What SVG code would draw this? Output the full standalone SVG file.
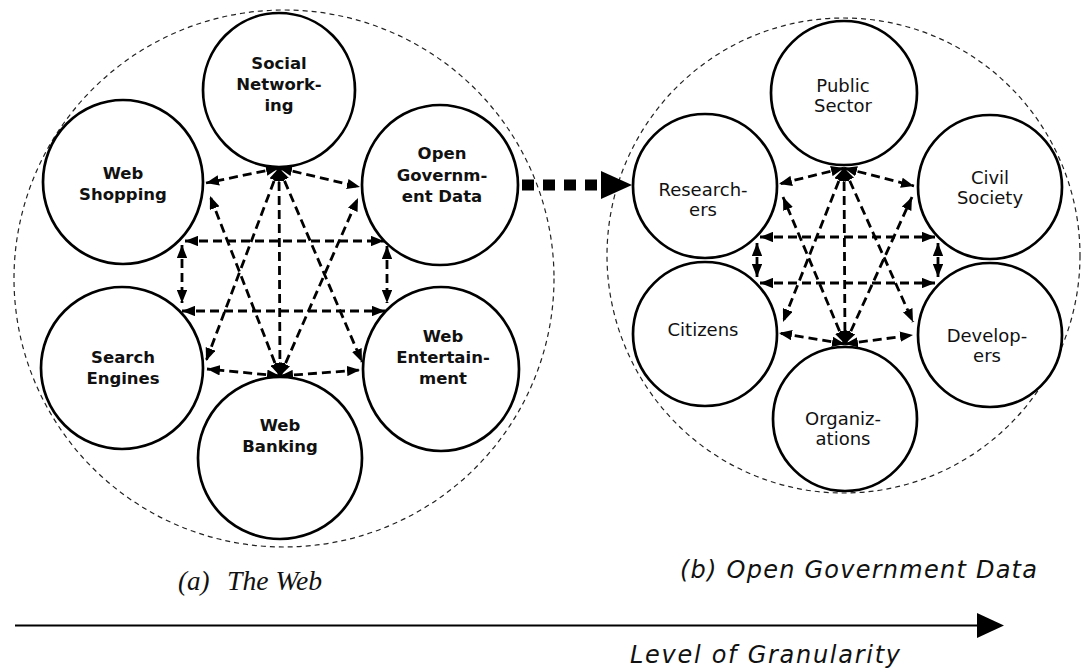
<svg xmlns="http://www.w3.org/2000/svg" width="1082" height="670" viewBox="0 0 1082 670">
<style>
.bg{fill:#fff}
.outer{fill:none;stroke:#222;stroke-width:1.2;stroke-dasharray:5 4}
.node{fill:#fff;stroke:#000;stroke-width:2.7}
.lb{font-family:"DejaVu Sans",Verdana,sans-serif;font-weight:bold;font-size:16.5px;fill:#111;text-anchor:middle}
.lr{font-family:"DejaVu Sans",Verdana,sans-serif;font-size:18px;fill:#111;text-anchor:middle}
.cn{fill:none;stroke:#000;stroke-width:2.8;stroke-dasharray:9 5;marker-start:url(#ah);marker-end:url(#ah)}
.cap{font-family:"DejaVu Sans",Verdana,sans-serif;font-style:italic;font-size:24px;fill:#111}
.capserif{font-family:"Liberation Serif","Times New Roman",serif;font-style:italic;font-size:27px;fill:#111}
</style>
<defs>
<marker id="ah" viewBox="0 0 10 8" refX="10" refY="4" markerWidth="13" markerHeight="10.5" markerUnits="userSpaceOnUse" orient="auto-start-reverse">
<path d="M0,0 L10,4 L0,8 z" fill="#000"/>
</marker>
</defs>
<rect class="bg" x="0" y="0" width="1082" height="670"/>

<g id="panel-a-boundary">
<ellipse class="outer" cx="284" cy="278.5" rx="270" ry="268.5"/>
</g>
<g id="panel-b-boundary">
<ellipse class="outer" cx="843.5" cy="255.5" rx="236.5" ry="237.5"/>
</g>

<g id="connectors">
<!-- panel a -->
<line class="cn" x1="279" y1="168" x2="206" y2="183"/>
<line class="cn" x1="279" y1="168" x2="360" y2="187"/>
<line class="cn" x1="279" y1="168" x2="206" y2="361"/>
<line class="cn" x1="279" y1="168" x2="280" y2="376"/>
<line class="cn" x1="279" y1="168" x2="362" y2="362"/>
<line class="cn" x1="280" y1="376" x2="210" y2="196"/>
<line class="cn" x1="280" y1="376" x2="358" y2="198"/>
<line class="cn" x1="280" y1="376" x2="207" y2="369"/>
<line class="cn" x1="280" y1="376" x2="360" y2="370"/>
<line class="cn" x1="185" y1="241" x2="384" y2="241"/>
<line class="cn" x1="182" y1="311" x2="385" y2="311"/>
<line class="cn" x1="182" y1="245" x2="182" y2="303"/>
<line class="cn" x1="387" y1="246" x2="387" y2="303"/>
<!-- panel b -->
<line class="cn" x1="844" y1="168" x2="779" y2="184"/>
<line class="cn" x1="844" y1="168" x2="914" y2="186"/>
<line class="cn" x1="844" y1="168" x2="783" y2="322"/>
<line class="cn" x1="844" y1="168" x2="845" y2="344"/>
<line class="cn" x1="844" y1="168" x2="913" y2="322"/>
<line class="cn" x1="845" y1="344" x2="783" y2="197"/>
<line class="cn" x1="845" y1="344" x2="912" y2="197"/>
<line class="cn" x1="845" y1="344" x2="779" y2="333"/>
<line class="cn" x1="845" y1="344" x2="913" y2="335"/>
<line class="cn" x1="760" y1="237" x2="935" y2="237"/>
<line class="cn" x1="760" y1="283" x2="935" y2="283"/>
<line class="cn" x1="757" y1="243" x2="757" y2="277"/>
<line class="cn" x1="938" y1="243" x2="938" y2="277"/>
<!-- between panels -->
<line x1="522" y1="185" x2="598" y2="185" stroke="#000" stroke-width="11" stroke-dasharray="12 9"/>
<polygon points="601,171 632,185 601,199" fill="#000"/>
<!-- granularity axis -->
<line x1="15" y1="625.5" x2="980" y2="625.5" stroke="#000" stroke-width="2"/>
<polygon points="977,613 1004,625.5 977,638" fill="#000"/>
</g>

<g id="social-networking">
<ellipse class="node" cx="279" cy="90" rx="76" ry="77"/>
<text class="lb" x="279" y="69">Social</text>
<text class="lb" x="279" y="90">Network-</text>
<text class="lb" x="279" y="111">ing</text>
</g>
<g id="web-shopping">
<ellipse class="node" cx="123" cy="182" rx="80" ry="82"/>
<text class="lb" x="123" y="179">Web</text>
<text class="lb" x="123" y="200">Shopping</text>
</g>
<g id="open-government-data">
<ellipse class="node" cx="440" cy="185" rx="78" ry="80"/>
<text class="lb" x="442" y="159">Open</text>
<text class="lb" x="442" y="181">Governm-</text>
<text class="lb" x="442" y="202">ent Data</text>
</g>
<g id="search-engines">
<ellipse class="node" cx="122" cy="368" rx="81" ry="81"/>
<text class="lb" x="123" y="363">Search</text>
<text class="lb" x="123" y="384">Engines</text>
</g>
<g id="web-entertainment">
<ellipse class="node" cx="441" cy="369" rx="78" ry="82"/>
<text class="lb" x="443" y="342">Web</text>
<text class="lb" x="443" y="363">Entertain-</text>
<text class="lb" x="443" y="384">ment</text>
</g>
<g id="web-banking">
<ellipse class="node" cx="280" cy="458" rx="82" ry="81"/>
<text class="lb" x="280" y="431">Web</text>
<text class="lb" x="280" y="452">Banking</text>
</g>

<g id="public-sector">
<ellipse class="node" cx="844" cy="93" rx="73" ry="72"/>
<text class="lr" x="843" y="92">Public</text>
<text class="lr" x="843" y="112">Sector</text>
</g>
<g id="researchers">
<ellipse class="node" cx="705" cy="186" rx="72" ry="72"/>
<text class="lr" x="703" y="196">Research-</text>
<text class="lr" x="703" y="216">ers</text>
</g>
<g id="civil-society">
<ellipse class="node" cx="990" cy="187" rx="72" ry="72"/>
<text class="lr" x="990" y="184">Civil</text>
<text class="lr" x="990" y="204">Society</text>
</g>
<g id="citizens">
<ellipse class="node" cx="705" cy="334" rx="72" ry="72"/>
<text class="lr" x="703" y="336">Citizens</text>
</g>
<g id="developers">
<ellipse class="node" cx="990" cy="335" rx="72" ry="72"/>
<text class="lr" x="987" y="342">Develop-</text>
<text class="lr" x="987" y="362">ers</text>
</g>
<g id="organizations">
<ellipse class="node" cx="845" cy="419" rx="72" ry="72"/>
<text class="lr" x="843" y="425">Organiz-</text>
<text class="lr" x="843" y="445">ations</text>
</g>

<g id="captions">
<text class="capserif" x="178" y="590">(a)</text>
<text class="capserif" x="227" y="590" textLength="95" lengthAdjust="spacingAndGlyphs">The Web</text>
<text class="cap" x="680" y="578" textLength="357" lengthAdjust="spacing">(b) Open Government Data</text>
<text class="cap" x="630" y="663" textLength="270" lengthAdjust="spacing">Level of Granularity</text>
</g>
</svg>
